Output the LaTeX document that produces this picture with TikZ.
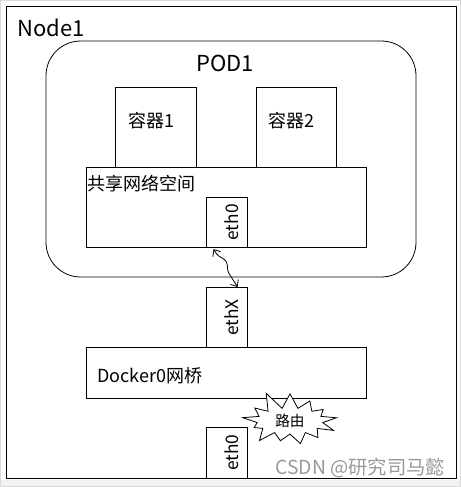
\documentclass[tikz,border=0pt]{standalone}
\usepackage{fontspec}
\setmainfont{Noto Sans CJK SC}
\usetikzlibrary{shapes.symbols,decorations.pathmorphing,arrows.meta}
\newcommand{\pxunit}{0.75pt}
\tikzset{
  box/.style={draw, line width=0.6pt, anchor=north west, inner sep=0pt},
  txt/.style={inner sep=0pt, font=\fontsize{13.5}{15}\selectfont},
  bigtxt/.style={inner sep=0pt, font=\fontsize{16.5}{18}\selectfont},
  port/.style={box, minimum width=41*\pxunit, font=\fontsize{13}{14}\selectfont},
}

\begin{document}
\begin{tikzpicture}[x=0.75pt, y=-0.75pt, line width=0.6pt]
	%%%%% FRAME %%%%%
	\useasboundingbox (0,0) rectangle (461,487);
	\draw[black!15] (0.5,0.5) rectangle (460.5,486.5);
	\fill[black!5] (1,480) rectangle (460,486);
	
	%%%%% NODE1 %%%%%
	\draw (6,6) rectangle (456,478);
	\node[bigtxt, anchor=west] (node1) at (17,28) {Node1};
	
	%%%%% POD1 %%%%%
	\draw[rounded corners=26pt] (46,41) rectangle (416,277);
	\node[bigtxt] (pod1) at (225,63) {POD1};
	
	\node[box, minimum width=81*\pxunit, minimum height=80*\pxunit] (c1) at (115,87) {};
	\node[txt] (c1t) at (151,121) {容器1};
	\node[box, minimum width=80*\pxunit, minimum height=80*\pxunit] (c2) at (256,87) {};
	\node[txt] (c2t) at (291,121) {容器2};
	
	\node[box, minimum width=280*\pxunit, minimum height=80*\pxunit] (share) at (86,167) {};
	\node[txt, anchor=west] (sharet) at (87,184) {共享网络空间};
	
	\node[port, minimum height=50*\pxunit] (eth0) at (206,197) {\hspace{7pt}\rotatebox{90}{eth0}};
	
	%%%%% BRIDGE %%%%%
	\node[port, minimum height=60*\pxunit] (ethX) at (206,287) {\hspace{7pt}\rotatebox{90}{ethX}};
	\node[box, minimum width=280*\pxunit, minimum height=51*\pxunit] (docker) at (86,347) {};
	\node[txt, anchor=west] (dockert) at (97,376) {Docker0网桥};
	
	\node[port, minimum height=51*\pxunit] (hosteth0) at (206,427) {\hspace{7pt}\rotatebox{90}{eth0}};
	
	\node[draw, fill=white, starburst, starburst points=13, random starburst=11,
	      minimum width=78pt, minimum height=48pt, inner sep=0pt,
	      font=\fontsize{11}{12}\selectfont] (route) at (290,421) {路由};
	
	%%%%% LINK %%%%%
	\draw[{Straight Barb[length=4pt,width=7pt]}-{Straight Barb[length=4pt,width=7pt]},
	      decorate, decoration={snake, amplitude=3pt, segment length=28pt, pre length=4pt, post length=4pt}]
	      ([xshift=-10pt, yshift=-1pt]eth0.south) -- ([xshift=8pt]ethX.north);
	
	\node[anchor=west, inner sep=0pt, text=black!40, font=\fontsize{14.5}{16}\selectfont] (mark) at (275,468) {CSDN @研究司马懿};
\end{tikzpicture}
\end{document}
